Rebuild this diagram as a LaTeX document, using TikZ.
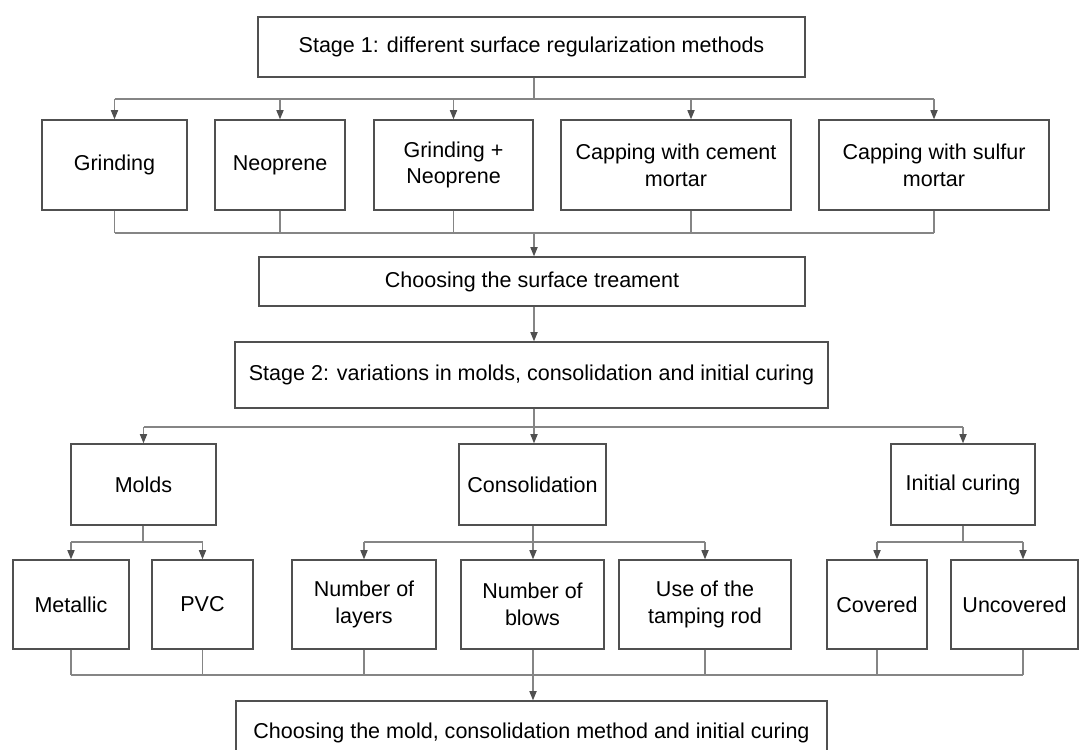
\documentclass[tikz,border=0pt]{standalone}
\usepackage{fontspec}
\setmainfont{Liberation Sans}
\usetikzlibrary{arrows.meta, shadows}
\definecolor{boxline}{HTML}{505050}
\definecolor{wire}{HTML}{858585}

\begin{document}
\begin{tikzpicture}[
        x = 0.025cm, y = -0.025cm,
        font = \fontsize{15.3}{19}\selectfont,
        >= {Triangle[length = 2.3mm, width = 1.8mm, color = boxline]},
        box/.style = {draw = boxline, line width = 1pt, fill = white, align = center, inner sep = 2pt,
            drop shadow = {opacity = 0.15, shadow xshift = 0.6pt, shadow yshift = -0.6pt}},
        size/.style 2 args = {minimum width = #1*0.025cm, minimum height = #2*0.025cm},
        wire/.style = {draw = wire, line width = 0.8pt},
        feed/.style = {wire, ->}
    ]

        \path[use as bounding box] (0,0) rectangle (1083,749);
        \clip (0,0) rectangle (1083,749);

        % stage 1
        \node[box, size = {547}{60}] (stage1) at (531.5,47) {Stage 1: different surface regularization methods};

        \node[box, size = {145}{90}] (grind) at (114.5,165) {Grinding};
        \node[box, size = {130}{90}] (neo) at (280,165) {Neoprene};
        \node[box, size = {159}{90}] (grindneo) at (453.5,165) {Grinding +\\Neoprene};
        \node[box, size = {230}{90}] (cement) at (676,165) {Capping with cement\\mortar};
        \node[box, size = {230}{90}] (sulfur) at (934,165) {Capping with sulfur\\mortar};

        \node[box, size = {546}{49}] (surface) at (532,281.5) {Choosing the surface treament};

        % stage 2
        \node[box, size = {593}{66}] (stage2) at (531.5,375) {Stage 2: variations in molds, consolidation and initial curing};

        \node[box, size = {145}{81}] (molds) at (143.5,484.5) {Molds};
        \node[box, size = {147}{81}] (consol) at (532.5,484.5) {Consolidation};
        \node[box, size = {144}{81}] (curing) at (963,484.5) {Initial curing};

        \node[box, size = {116}{89}] (metal) at (71,604.5) {Metallic};
        \node[box, size = {101}{89}] (pvc) at (202.5,604.5) {PVC};
        \node[box, size = {144}{89}] (layers) at (364,604.5) {Number of\\layers};
        \node[box, size = {143}{89}] (blows) at (532.5,604.5) {Number of\\blows};
        \node[box, size = {172}{89}] (rod) at (705,604.5) {Use of the\\tamping rod};
        \node[box, size = {100}{89}] (covered) at (877,604.5) {Covered};
        \node[box, size = {127}{89}] (uncovered) at (1014.5,604.5) {Uncovered};

        \node[box, size = {591}{64}] (final) at (531.5,733) {Choosing the mold, consolidation method and initial curing};

        % buses
        \coordinate (bus1) at (534,99);
        \coordinate (bus2) at (534,233);
        \coordinate (bus3) at (534,427);
        \coordinate (busm) at (143,542);
        \coordinate (busc) at (533,542);
        \coordinate (busi) at (963,542);
        \coordinate (bus4) at (533,675);

        % stage 1 wiring
        \path[wire] (stage1.south -| bus1) -- (bus1)
            (grind.north |- bus1) -- (sulfur.north |- bus1);
        \foreach \n in {grind, neo, grindneo, sulfur}
            \draw[feed] (\n.north |- bus1) -- (\n.north);
        \draw[feed] ([xshift = 15*0.025cm]cement.north |- bus1) -- ([xshift = 15*0.025cm]cement.north);

        \foreach \n in {grind, neo, grindneo, sulfur}
            \draw[wire] (\n.south) -- (\n.south |- bus2);
        \draw[wire] ([xshift = 15*0.025cm]cement.south) -- ([xshift = 15*0.025cm]cement.south |- bus2);
        \path[wire] (grind.south |- bus2) -- (sulfur.south |- bus2);
        \draw[feed] (bus2) -- (surface.north -| bus2);
        \draw[feed] (surface.south -| bus2) -- (stage2.north -| bus2);

        % stage 2 wiring
        \path[wire] (stage2.south -| bus3) -- (bus3)
            (molds.north |- bus3) -- (curing.north |- bus3);
        \draw[feed] (molds.north |- bus3) -- (molds.north);
        \draw[feed] (bus3) -- (consol.north -| bus3);
        \draw[feed] (curing.north |- bus3) -- (curing.north);

        \path[wire] (molds.south -| busm) -- (busm)
            (metal.north |- busm) -- (pvc.north |- busm);
        \draw[feed] (metal.north |- busm) -- (metal.north);
        \draw[feed] (pvc.north |- busm) -- (pvc.north);

        \path[wire] (consol.south -| busc) -- (busc)
            (layers.north |- busc) -- (rod.north |- busc);
        \draw[feed] (layers.north |- busc) -- (layers.north);
        \draw[feed] (busc) -- (blows.north -| busc);
        \draw[feed] (rod.north |- busc) -- (rod.north);

        \path[wire] (curing.south) -- (busi)
            (covered.north |- busi) -- ([xshift = 8.5*0.025cm]uncovered.north |- busi);
        \draw[feed] (covered.north |- busi) -- (covered.north);
        \draw[feed] ([xshift = 8.5*0.025cm]uncovered.north |- busi) -- ([xshift = 8.5*0.025cm]uncovered.north);

        \foreach \n in {metal, pvc, layers, rod, covered}
            \draw[wire] (\n.south) -- (\n.south |- bus4);
        \draw[wire] (blows.south -| bus4) -- (bus4);
        \draw[wire] ([xshift = 8.5*0.025cm]uncovered.south) -- ([xshift = 8.5*0.025cm]uncovered.south |- bus4);
        \path[wire] (metal.south |- bus4) -- ([xshift = 8.5*0.025cm]uncovered.south |- bus4);
        \draw[feed] (bus4) -- (final.north -| bus4);

    \end{tikzpicture}
\end{document}
